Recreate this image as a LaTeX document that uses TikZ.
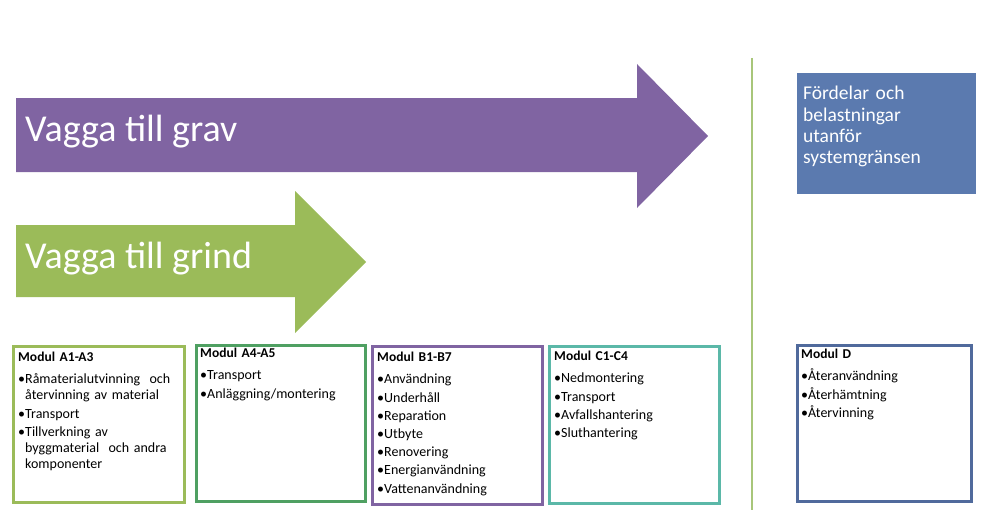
\documentclass[tikz,border=0pt]{standalone}
\usepackage{fontspec}
\setmainfont{Carlito}
\definecolor{arrpurple}{HTML}{8064A2}
\definecolor{arrgreen}{HTML}{9BBB59}
\definecolor{boxa}{HTML}{9BBB59}
\definecolor{boxb}{HTML}{4FA062}
\definecolor{boxc}{HTML}{8064A2}
\definecolor{boxd}{HTML}{5BB8A8}
\definecolor{boxe}{HTML}{506A9C}
\definecolor{bluefill}{HTML}{5B7AAF}
\definecolor{vline}{HTML}{A8C67A}
\newcommand{\itm}[1]{\par\hangindent=7pt\hangafter=1\noindent\makebox[7pt][l]{•}#1\par}
\tikzset{
  modframe/.style={draw, line width=2.5pt, minimum width=#1, minimum height=156pt, anchor=north west, inner sep=0pt},
  modtext/.style={anchor=north west, inner sep=0pt, text width=#1, align=left, font=\fontsize{14}{16}\selectfont},
  bigarrowtext/.style={anchor=base west, text=white, font=\fontsize{38}{40}\selectfont, inner sep=0pt},
}
\newcommand{\modhead}[1]{{\bfseries\fontsize{13.5}{15}\selectfont #1}\par\vspace{4pt}\setlength{\parskip}{2.2pt}\hyphenpenalty=10000 }
\begin{document}
\begin{tikzpicture}[x=1pt,y=-1pt]
\useasboundingbox (0,0) rectangle (988,519);
% arrows
\fill[arrpurple] (16,98) -- (637,98) -- (637,64) -- (708,136) -- (637,208) -- (637,172) -- (16,172) -- cycle;
\node[bigarrowtext] (grav) at (25,141) {Vagga till grav};
\fill[arrgreen] (16,225) -- (295,225) -- (295,191) -- (366,262) -- (295,333) -- (295,297) -- (16,297) -- cycle;
\node[bigarrowtext] (grind) at (25,268) {Vagga till grind};
% vertical line
\draw[vline, line width=2.5pt] (752,58) -- (752,510);
% blue box
\node[fill=bluefill, minimum width=179pt, minimum height=121pt, anchor=north west, inner sep=0pt] (ext) at (797,73) {};
\node[anchor=north west, inner sep=0pt, text=white, text width=170pt, align=left, font=\fontsize{19.5}{21.3}\selectfont] (exttext) at ([xshift=6pt,yshift=-13pt]ext.north west) {Fördelar och\\belastningar\\utanför\\systemgränsen};
% module boxes
\node[modframe=171pt, draw=boxa] (ma) at (12,345) {};
\node[modtext=165pt] (mat) at ([xshift=6pt,yshift=-7pt]ma.north west) {\modhead{Modul A1-A3}\itm{Råmaterialutvinning\ \ och\newline återvinning av material}\itm{Transport}\itm{Tillverkning av\newline byggmaterial\ \ och andra\newline komponenter}};
\node[modframe=169pt, draw=boxb] (mb) at (195,344) {};
\node[modtext=160pt] (mbt) at ([xshift=5pt,yshift=-4pt]mb.north west) {\modhead{Modul A4-A5}\itm{Transport}\itm{Anläggning/montering}};
\node[modframe=170pt, minimum height=158pt, draw=boxc] (mc) at (371,345) {};
\node[modtext=160pt] (mct) at ([xshift=6pt,yshift=-7pt]mc.north west) {\modhead{Modul B1-B7}\itm{Användning}\itm{Underhåll}\itm{Reparation}\itm{Utbyte}\itm{Renovering}\itm{Energianvändning}\itm{Vattenanvändning}};
\node[modframe=170pt, minimum height=157pt, draw=boxd] (md) at (548,345) {};
\node[modtext=160pt] (mdt) at ([xshift=6pt,yshift=-6pt]md.north west) {\modhead{Modul C1-C4}\itm{Nedmontering}\itm{Transport}\itm{Avfallshantering}\itm{Sluthantering}};
\node[modframe=174pt, draw=boxe] (me) at (796,344) {};
\node[modtext=165pt] (met) at ([xshift=5pt,yshift=-5pt]me.north west) {\modhead{Modul D}\itm{Återanvändning}\itm{Återhämtning}\itm{Återvinning}};
\end{tikzpicture}
\end{document}
